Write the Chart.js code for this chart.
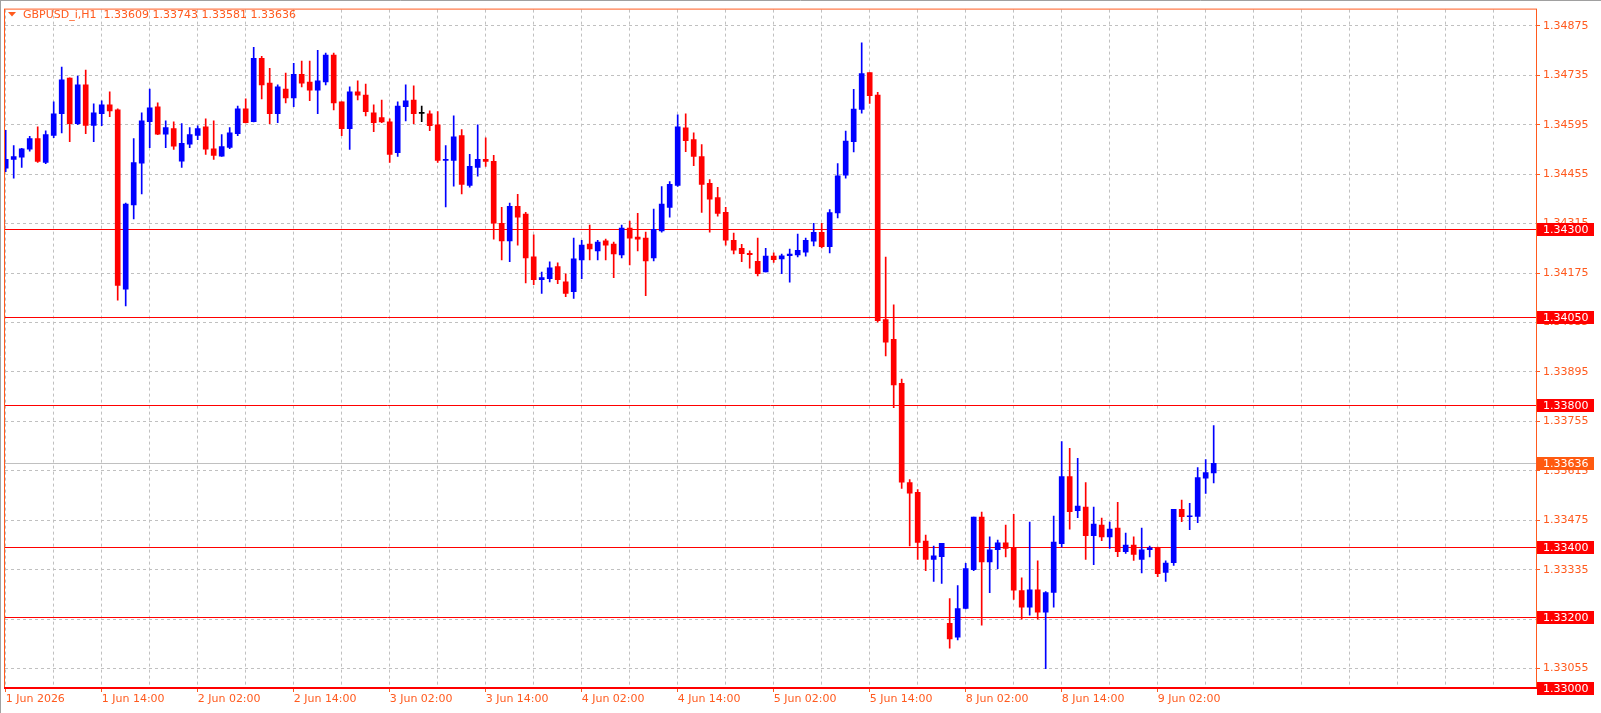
<!DOCTYPE html>
<html><head><meta charset="utf-8">
<script src="https://cdn.jsdelivr.net/npm/chart.js@4.4.1/dist/chart.umd.min.js"></script>
<style>html,body{margin:0;padding:0;background:#fff;overflow:hidden}canvas{display:block}</style>
</head><body>
<canvas id="c" width="1601" height="713"></canvas>
<script>
// GBPUSD_i H1, bars 1 Jun 02:00 .. 9 Jun 09:00
const opens = [1.34472,1.34497,1.34503,1.34526,1.34556,1.34488,1.34565,1.34626,1.34727,1.34598,1.34708,1.34593,1.34626,1.34651,1.34637,1.34129,1.34368,1.34486,1.34604,1.34646,1.34568,1.34584,1.34492,1.34540,1.34565,1.34589,1.34527,1.34506,1.34531,1.34570,
1.34640,1.34604,1.34783,1.34713,1.34626,1.34696,1.34671,1.34738,1.34716,1.34693,1.34716,1.34792,1.34660,1.34584,1.34688,1.34679,1.34629,1.34615,1.34603,1.34516,1.34646,1.34665,1.34627,1.34626,1.34595,1.34494,1.34494,1.34564,1.34423,1.34474,
1.34497,1.34491,1.34316,1.34266,1.34364,1.34342,1.34221,1.34156,1.34159,1.34193,1.34150,1.34122,1.34212,1.34257,1.34238,1.34266,1.34257,1.34226,1.34302,1.34277,1.34274,1.34218,1.34294,1.34361,1.34423,1.34586,1.34553,1.34505,1.34429,1.34389,
1.34347,1.34268,1.34245,1.34231,1.34208,1.34178,1.34223,1.34215,1.34224,1.34226,1.34234,1.34265,1.34290,1.34250,1.34345,1.34452,1.34547,1.34638,1.34743,1.34679,1.34043,1.33987,1.33863,1.33582,1.33554,1.33416,1.33364,1.33372,1.33183,1.33144,
1.33225,1.33335,1.33484,1.33357,1.33392,1.33411,1.33397,1.33276,1.33229,1.33278,1.33215,1.33271,1.33409,1.33599,1.33502,1.33512,1.33431,1.33461,1.33428,1.33453,1.33386,1.33405,1.33364,1.33392,1.33397,1.33327,1.33355,1.33506,1.33485,1.33486,
1.33594,1.33609];
const highs = [1.34579,1.34536,1.34528,1.34562,1.34589,1.34578,1.34660,1.34758,1.34728,1.34733,1.34750,1.34654,1.34663,1.34688,1.34640,1.34373,1.34556,1.34629,1.34696,1.34657,1.34606,1.34603,1.34598,1.34587,1.34592,1.34612,1.34606,1.34567,1.34587,1.34648,
1.34668,1.34814,1.34789,1.34755,1.34708,1.34741,1.34769,1.34775,1.34775,1.34806,1.34798,1.34798,1.34660,1.34702,1.34719,1.34710,1.34651,1.34665,1.34612,1.34660,1.34708,1.34705,1.34648,1.34634,1.34632,1.34536,1.34620,1.34581,1.34511,1.34595,
1.34558,1.34508,1.34361,1.34373,1.34398,1.34347,1.34283,1.34178,1.34207,1.34204,1.34173,1.34274,1.34268,1.34311,1.34268,1.34271,1.34263,1.34311,1.34322,1.34344,1.34291,1.34356,1.34420,1.34434,1.34623,1.34626,1.34572,1.34539,1.34440,1.34418,
1.34361,1.34288,1.34256,1.34238,1.34274,1.34245,1.34232,1.34229,1.34243,1.34285,1.34274,1.34316,1.34316,1.34355,1.34485,1.34577,1.34695,1.34827,1.34743,1.34687,1.34220,1.34085,1.33875,1.33590,1.33562,1.33433,1.33402,1.33410,1.33253,1.33290,
1.33353,1.33484,1.33498,1.33428,1.33419,1.33461,1.33492,1.33312,1.33470,1.33360,1.33273,1.33487,1.33698,1.33679,1.33650,1.33582,1.33512,1.33481,1.33470,1.33526,1.33439,1.33428,1.33453,1.33402,1.33399,1.33360,1.33506,1.33532,1.33523,1.33624,
1.33647,1.33743];
const lows = [1.34462,1.34444,1.34474,1.34520,1.34488,1.34485,1.34558,1.34572,1.34547,1.34595,1.34570,1.34547,1.34592,1.34618,1.34098,1.34082,1.34328,1.34399,1.34530,1.34567,1.34530,1.34525,1.34474,1.34530,1.34553,1.34511,1.34497,1.34505,1.34527,1.34564,
1.34600,1.34603,1.34668,1.34598,1.34601,1.34657,1.34646,1.34702,1.34663,1.34626,1.34708,1.34637,1.34564,1.34525,1.34665,1.34620,1.34575,1.34601,1.34488,1.34505,1.34606,1.34598,1.34604,1.34578,1.34488,1.34362,1.34421,1.34399,1.34418,1.34449,
1.34477,1.34271,1.34212,1.34207,1.34254,1.34147,1.34142,1.34117,1.34150,1.34145,1.34108,1.34103,1.34159,1.34212,1.34212,1.34212,1.34162,1.34218,1.34198,1.34238,1.34111,1.34209,1.34291,1.34333,1.34420,1.34519,1.34479,1.34347,1.34291,1.34336,
1.34254,1.34229,1.34207,1.34189,1.34167,1.34178,1.34205,1.34173,1.34149,1.34221,1.34223,1.34252,1.34246,1.34232,1.34331,1.34444,1.34518,1.34628,1.34655,1.34036,1.33940,1.33794,1.33565,1.33402,1.33364,1.33332,1.33302,1.33296,1.33113,1.33136,
1.33224,1.33332,1.33178,1.33270,1.33338,1.33371,1.33251,1.33195,1.33206,1.33195,1.33055,1.33229,1.33399,1.33450,1.33482,1.33364,1.33349,1.33417,1.33395,1.33372,1.33381,1.33361,1.33326,1.33371,1.33315,1.33302,1.33347,1.33471,1.33448,1.33468,
1.33551,1.33581];
const closes = [1.34497,1.34505,1.34527,1.34556,1.34491,1.34567,1.34626,1.34722,1.34598,1.34708,1.34593,1.34629,1.34651,1.34634,1.34140,1.34370,1.34488,1.34606,1.34643,1.34568,1.34587,1.34534,1.34542,1.34567,1.34584,1.34526,1.34508,1.34533,1.34572,1.34640,
1.34601,1.34783,1.34708,1.34626,1.34702,1.34671,1.34738,1.34713,1.34693,1.34719,1.34792,1.34657,1.34584,1.34688,1.34679,1.34632,1.34601,1.34603,1.34511,1.34648,1.34663,1.34626,1.34627,1.34592,1.34494,1.34496,1.34561,1.34426,1.34477,1.34497,
1.34491,1.34316,1.34266,1.34364,1.34333,1.34218,1.34156,1.34162,1.34190,1.34156,1.34117,1.34215,1.34254,1.34243,1.34263,1.34254,1.34229,1.34302,1.34274,1.34271,1.34209,1.34299,1.34370,1.34426,1.34589,1.34550,1.34505,1.34426,1.34384,1.34344,
1.34268,1.34240,1.34230,1.34227,1.34173,1.34223,1.34213,1.34224,1.34229,1.34239,1.34268,1.34290,1.34250,1.34346,1.34450,1.34549,1.34639,1.34740,1.34677,1.34040,1.33979,1.33858,1.33583,1.33552,1.33412,1.33364,1.33374,1.33410,1.33139,1.33225,
1.33338,1.33484,1.33357,1.33391,1.33411,1.33395,1.33277,1.33229,1.33278,1.33215,1.33270,1.33413,1.33599,1.33499,1.33515,1.33431,1.33464,1.33428,1.33450,1.33386,1.33405,1.33378,1.33391,1.33397,1.33324,1.33354,1.33506,1.33485,1.33487,1.33596,
1.33610,1.33636];
const xTickBars = [1,13,25,37,49,61,73,85,97,109,121,133,145];
const xTickLabels = ['1 Jun 2026','1 Jun 14:00','2 Jun 02:00','2 Jun 14:00','3 Jun 02:00','3 Jun 14:00','4 Jun 02:00','4 Jun 14:00','5 Jun 02:00','5 Jun 14:00','8 Jun 02:00','8 Jun 14:00','9 Jun 02:00'];
const yTickValues = [1.34875,1.34735,1.34595,1.34455,1.34315,1.34175,1.34035,1.33895,1.33755,1.33615,1.33475,1.33335,1.33195,1.33055];
const levelPrices = [1.34300,1.34050,1.33800,1.33400,1.33200];
const currentPrice = 1.33636;
const bottomPrice = 1.33000;
const titleText = 'GBPUSD_i,H1  1.33609 1.33743 1.33581 1.33636';

const UP='#0000ff', DN='#ff0000', TXT='#ff5a1e';
const colors = opens.map((o,i)=> closes[i]>o ? UP : (closes[i]<o ? DN : '#000000'));
const wickData = opens.map((o,i)=>({x:i+1, y:[lows[i],highs[i]]}));
const bodyData = opens.map((o,i)=>({x:i+1, y:[o,closes[i]]}));

const overlay = {
  id:'overlay',
  beforeDatasetsDraw(chart){
    const {ctx, chartArea:a, scales:{y}} = chart;
    ctx.save();
    ctx.lineWidth=1;
    ctx.strokeStyle='#c0c0c0';
    let py=Math.round(y.getPixelForValue(currentPrice))+0.5;
    ctx.beginPath();ctx.moveTo(a.left,py);ctx.lineTo(a.right,py);ctx.stroke();
    ctx.strokeStyle='#ff0000';
    levelPrices.forEach(p=>{const yy=Math.round(y.getPixelForValue(p))+0.5;ctx.beginPath();ctx.moveTo(a.left,yy);ctx.lineTo(a.right,yy);ctx.stroke();});
    ctx.restore();
  },
  afterDraw(chart){
    const {ctx, chartArea:a, scales:{y}} = chart;
    ctx.save();
    ctx.strokeStyle='#ff5a1e';ctx.lineWidth=1;
    ctx.strokeRect(a.left-0.5,a.top-0.5,a.right-a.left+1,a.bottom-a.top+1);
    ctx.fillStyle='#ff0000';
    ctx.fillRect(a.left-1,a.bottom-1,a.right-a.left+2,2);
    ctx.strokeStyle='#a0a0a0';
    ctx.beginPath();ctx.moveTo(0.5,0);ctx.lineTo(0.5,713);ctx.moveTo(0,0.5);ctx.lineTo(1601,0.5);ctx.stroke();
    ctx.font='11px "DejaVu Sans"';ctx.textBaseline='middle';ctx.textAlign='left';
    const box=(p,bg)=>{const yy=Math.round(y.getPixelForValue(p));ctx.fillStyle=bg;ctx.fillRect(a.right+1,yy-6,57,13);ctx.fillStyle='#ffffff';ctx.fillText(p.toFixed(5),a.right+7,yy+1);};
    levelPrices.forEach(p=>box(p,'#ff0000'));
    box(currentPrice,'#ff5a10');
    box(bottomPrice,'#ff0000');
    ctx.fillStyle=TXT;
    ctx.fillText(titleText,23,15);
    ctx.beginPath();ctx.moveTo(8,12);ctx.lineTo(16,12);ctx.lineTo(12,16.5);ctx.closePath();ctx.fill();
    ctx.restore();
  }
};

new Chart(document.getElementById('c'),{
  type:'bar',
  data:{datasets:[
    {data:wickData, backgroundColor:colors, barThickness:1, grouped:false, order:2},
    {data:bodyData, backgroundColor:colors, barThickness:5, grouped:false, minBarLength:1, order:1}
  ]},
  options:{
    responsive:false, animation:false, devicePixelRatio:1,
    layout:{padding:{left:5,top:5,right:0,bottom:0}},
    plugins:{legend:{display:false},tooltip:{enabled:false}},
    scales:{
      x:{type:'linear', min:0.9125, max:192.29, offset:false,
        afterBuildTicks:s=>{const t=[];for(let b=1;b<=192;b+=6)t.push({value:b});s.ticks=t;},
        afterFit:s=>{s.height=25;},
        border:{display:false, dash:[3,3]},
        grid:{offset:false, color:'#c0c0c0', lineWidth:1, tickLength:4, drawTicks:true,
          tickColor:c=>xTickBars.includes(c.tick&&c.tick.value)?TXT:'rgba(0,0,0,0)'},
        ticks:{autoSkip:false, maxRotation:0, align:'start', padding:1, color:TXT, font:{family:'DejaVu Sans',size:11},
          callback:v=>{const k=xTickBars.indexOf(v);return k>=0?xTickLabels[k]:'';}}
      },
      y:{type:'linear', position:'right', min:1.33000, max:1.34921,
        afterBuildTicks:s=>{s.ticks=yTickValues.map(v=>({value:v}));},
        afterFit:s=>{s.width=65;},
        border:{display:false, dash:[3,3]},
        grid:{color:'#c0c0c0', lineWidth:1, tickLength:4, tickColor:TXT},
        ticks:{padding:3, color:TXT, font:{family:'DejaVu Sans',size:11}, callback:v=>v.toFixed(5)}
      }
    }
  },
  plugins:[overlay]
});
</script>
</body></html>
